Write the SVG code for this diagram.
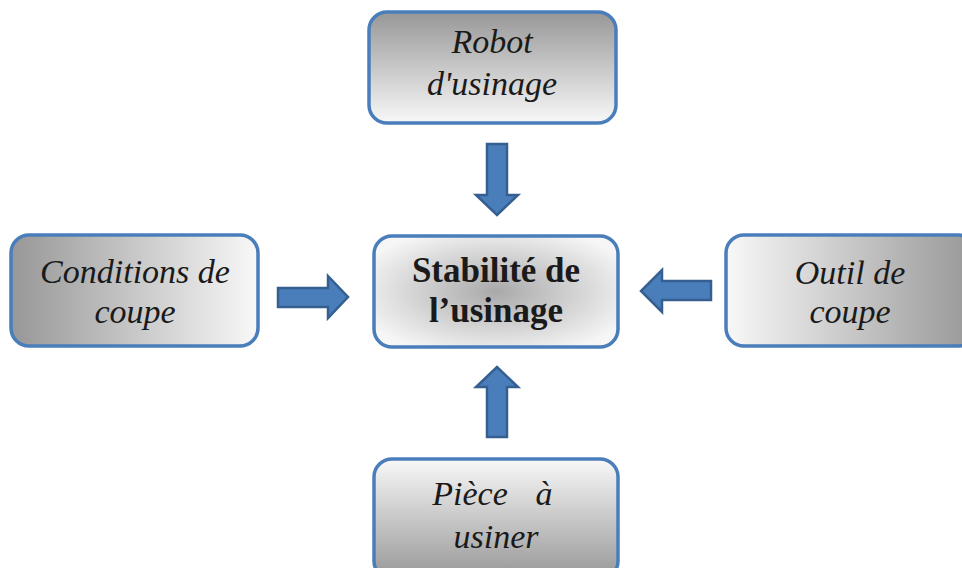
<svg xmlns="http://www.w3.org/2000/svg" width="962" height="568" viewBox="0 0 962 568">
<style>
.box{stroke:#4a7ebb;stroke-width:3.5}
.arr{fill:#4a7ebb;stroke:#355f91;stroke-width:2.5;stroke-linejoin:miter}
.t{font-family:"Liberation Serif","Times New Roman",serif;font-size:34px;font-style:italic;fill:#1a1a1a;text-anchor:middle}
.b{font-family:"Liberation Serif","Times New Roman",serif;font-size:35px;font-weight:bold;fill:#1a1a1a;text-anchor:middle}
</style>
<defs>
<linearGradient id="gDown" x1="0" y1="0" x2="0" y2="1"><stop offset="0" stop-color="#979797"/><stop offset="1" stop-color="#f8f8f8"/></linearGradient>
<linearGradient id="gUp" x1="0" y1="0" x2="0" y2="1"><stop offset="0" stop-color="#f8f8f8"/><stop offset="1" stop-color="#979797"/></linearGradient>
<linearGradient id="gRight" x1="0" y1="0" x2="1" y2="0"><stop offset="0" stop-color="#979797"/><stop offset="1" stop-color="#f8f8f8"/></linearGradient>
<linearGradient id="gLeft" x1="0" y1="0" x2="1" y2="0"><stop offset="0" stop-color="#f8f8f8"/><stop offset="1" stop-color="#979797"/></linearGradient>
<radialGradient id="gRad" cx="0.5" cy="0.5" r="0.6"><stop offset="0" stop-color="#a9a9a9"/><stop offset="1" stop-color="#f6f6f6"/></radialGradient>
</defs>
<g id="connectors">
<polygon class="arr" points="487,144 507,144 507,195 518,195 497,215 476,195 487,195"/>
<polygon class="arr" points="278,288 328,288 328,276 348,297 328,318 328,307 278,307"/>
<polygon class="arr" points="711,281 662,281 662,270 641,291 662,312 662,300 711,300"/>
<polygon class="arr" points="487,437 507,437 507,387 518,387 497,367 476,387 487,387"/>
</g>
<g id="robot">
<rect class="box" x="369" y="12" width="247" height="111" rx="18" fill="url(#gDown)"/>
<text class="t" x="492" y="53">Robot</text>
<text class="t" x="492" y="95">d'usinage</text>
</g>
<g id="conditions">
<rect class="box" x="11" y="235" width="247" height="111" rx="18" fill="url(#gRight)"/>
<text class="t" x="135" y="283">Conditions de</text>
<text class="t" x="135" y="323">coupe</text>
</g>
<g id="stabilite">
<rect class="box" x="374" y="236" width="244" height="111" rx="18" fill="url(#gRad)"/>
<text class="b" x="496" y="282">Stabilité de</text>
<text class="b" x="496" y="322">l’usinage</text>
</g>
<g id="outil">
<rect class="box" x="726" y="235" width="250" height="111" rx="18" fill="url(#gLeft)"/>
<text class="t" x="850" y="284">Outil de</text>
<text class="t" x="850" y="323">coupe</text>
</g>
<g id="piece">
<rect class="box" x="374" y="459" width="244" height="120" rx="18" fill="url(#gUp)"/>
<text class="t" x="496" y="505"><tspan x="470">Pièce</tspan><tspan x="544">à</tspan></text>
<text class="t" x="496" y="548">usiner</text>
</g>
</svg>
